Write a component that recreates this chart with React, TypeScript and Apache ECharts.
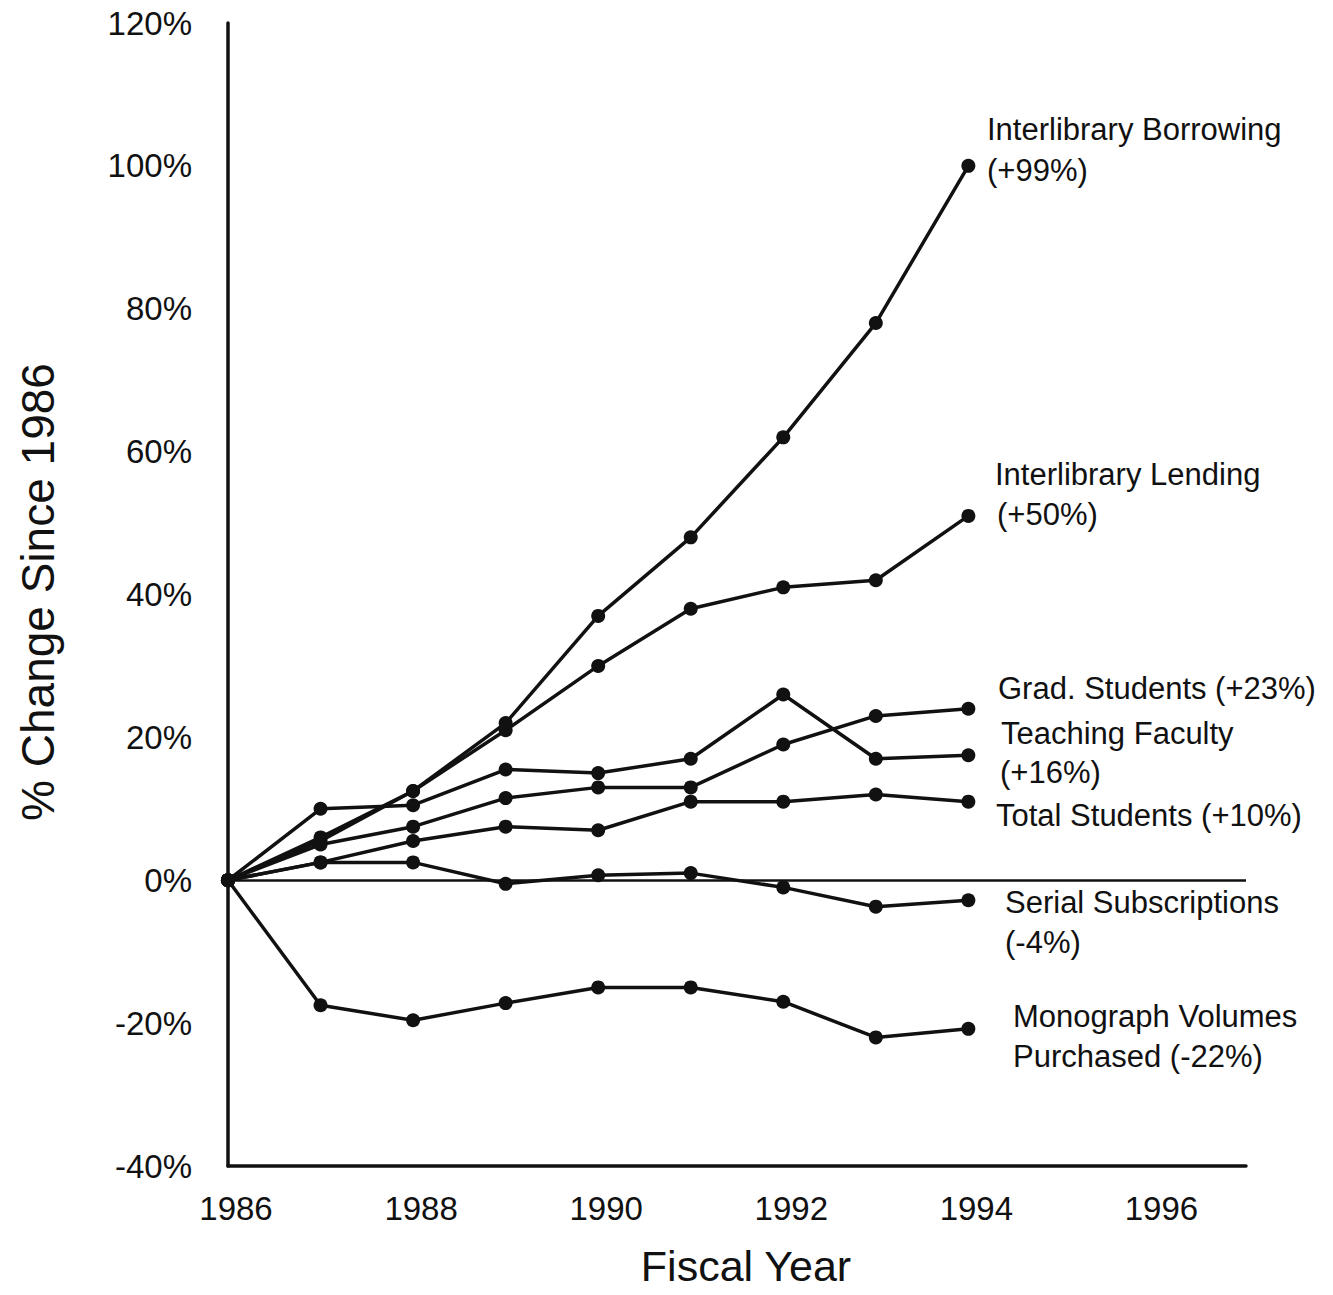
import React, { useEffect, useRef } from "react";
import * as echarts from "echarts";

const years = [1986, 1987, 1988, 1989, 1990, 1991, 1992, 1993, 1994];
const borrowing = [0, 6, 12.5, 22, 37, 48, 62, 78, 100];
const lending = [0, 5.5, 12.5, 21, 30, 38, 41, 42, 51];
const gradStudents = [0, 5, 7.5, 11.5, 13, 13, 19, 23, 24];
const teachingFaculty = [0, 10, 10.5, 15.5, 15, 17, 26, 17, 17.5];
const totalStudents = [0, 2.5, 5.5, 7.5, 7, 11, 11, 12, 11];
const serials = [0, 2.5, 2.5, -0.5, 0.7, 1, -1, -3.7, -2.8];
const monographs = [0, -17.5, -19.6, -17.2, -15, -15, -17, -22, -20.8];

const seriesList = [
  { name: "Interlibrary Borrowing", values: borrowing },
  { name: "Interlibrary Lending", values: lending },
  { name: "Grad. Students", values: gradStudents },
  { name: "Teaching Faculty", values: teachingFaculty },
  { name: "Total Students", values: totalStudents },
  { name: "Serial Subscriptions", values: serials },
  { name: "Monograph Volumes Purchased", values: monographs },
];

const annotationLines = [
  { text: "Interlibrary Borrowing", x: 987, y: 129 },
  { text: "(+99%)", x: 987, y: 170 },
  { text: "Interlibrary Lending", x: 995, y: 474 },
  { text: "(+50%)", x: 997, y: 514 },
  { text: "Grad. Students (+23%)", x: 998, y: 688 },
  { text: "Teaching Faculty", x: 1001, y: 733 },
  { text: "(+16%)", x: 1000, y: 772 },
  { text: "Total Students (+10%)", x: 996, y: 815 },
  { text: "Serial Subscriptions", x: 1005, y: 902 },
  { text: "(-4%)", x: 1005, y: 942 },
  { text: "Monograph Volumes", x: 1013, y: 1016 },
  { text: "Purchased (-22%)", x: 1013, y: 1056 },
];

const FONT = "'Liberation Sans', Arial, Helvetica, sans-serif";
const INK = "#111111";

export default function App() {
  const ref = useRef<HTMLDivElement>(null);

  useEffect(() => {
    if (!ref.current) return;
    const chart = echarts.init(ref.current, undefined, { renderer: "svg" });

    const series: any[] = seriesList.map((s, i) => ({
      name: s.name,
      type: "line",
      data: years.map((y, j) => [y, s.values[j]]),
      symbol: "circle",
      symbolSize: 14,
      itemStyle: { color: INK },
      lineStyle: { color: INK, width: 3.5 },
      z: 3,
      markLine:
        i === 0
          ? {
              silent: true,
              symbol: "none",
              label: { show: false },
              lineStyle: { color: INK, width: 2.5, type: "solid" },
              data: [{ yAxis: 0 }],
            }
          : undefined,
    }));

    chart.setOption({
      animation: false,
      backgroundColor: "#ffffff",
      grid: { left: 228, right: 87, top: 23, bottom: 129 },
      xAxis: {
        type: "value",
        min: 1986,
        max: 1997,
        interval: 2,
        axisLine: { show: true, onZero: false, lineStyle: { color: INK, width: 3.5 } },
        axisTick: { show: false },
        splitLine: { show: false },
        axisLabel: {
          showMaxLabel: false,
          margin: 26,
          padding: [0, 0, 0, 16],
          color: INK,
          fontSize: 33,
          fontFamily: FONT,
          formatter: (v: number) => (v % 2 === 0 ? String(v) : ""),
        },
      },
      yAxis: {
        type: "value",
        min: -40,
        max: 120,
        interval: 20,
        axisLine: { show: true, onZero: false, lineStyle: { color: INK, width: 3.5 } },
        axisTick: { show: false },
        splitLine: { show: false },
        axisLabel: {
          margin: 36,
          color: INK,
          fontSize: 33,
          fontFamily: FONT,
          formatter: "{value}%",
        },
      },
      graphic: [
        {
          type: "text",
          x: 38,
          y: 592,
          rotation: Math.PI / 2,
          style: {
            text: "% Change Since 1986",
            fill: INK,
            font: `46px ${FONT}`,
            align: "center",
            verticalAlign: "middle",
          },
        },
        {
          type: "text",
          x: 746,
          y: 1266,
          style: {
            text: "Fiscal Year",
            fill: INK,
            font: `43px ${FONT}`,
            align: "center",
            verticalAlign: "middle",
          },
        },
        ...annotationLines.map((a) => ({
          type: "text",
          x: a.x,
          y: a.y,
          style: {
            text: a.text,
            fill: INK,
            font: `31px ${FONT}`,
            align: "left",
            verticalAlign: "middle",
          },
        })),
      ],
      series,
    });

    return () => chart.dispose();
  }, []);

  return (
    <div
      ref={ref}
      style={{ position: "absolute", left: 0, top: 0, width: 1333, height: 1295, background: "#fff" }}
    />
  );
}
